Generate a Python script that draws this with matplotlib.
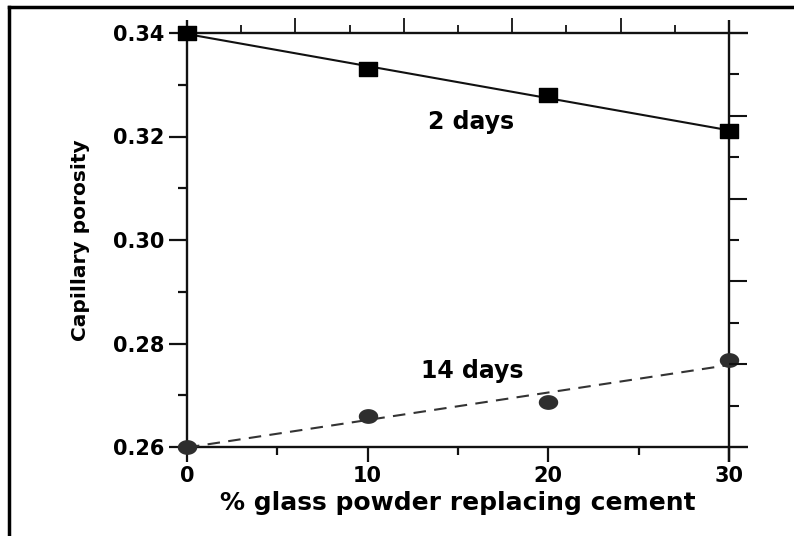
import matplotlib
matplotlib.use("Agg")
import matplotlib.pyplot as plt
import numpy as np
from matplotlib.lines import Line2D
from matplotlib.path import Path

glass_pct = [0, 10, 20, 30]
porosity_2d = [0.340, 0.333, 0.328, 0.321]
porosity_14d = [0.260, 0.266, 0.2687, 0.2768]
y_ticks = [0.26, 0.28, 0.30, 0.32, 0.34]
y_tick_labels = ["0.26", "0.28", "0.30", "0.32", "0.34"]
x_ticks = [0, 10, 20, 30]
x_tick_labels = ["0", "10", "20", "30"]

plt.rcParams['font.family'] = ['DejaVu Sans']
plt.rcParams['font.weight'] = 'bold'

fig = plt.figure(figsize=(7.94, 5.36), dpi=100)
ax = fig.add_axes([187/794, 1-447/536, 542/794, 414/536])
ax.set_xlim(0, 30)
ax.set_ylim(0.26, 0.34)

lw_ax = 1.7
for s in ax.spines.values():
    s.set_visible(False)

# extended frame lines
ext_r = 19/542
ext_t = 13/414
ext_b = 15/414
def fl(xs, ys):
    ax.add_line(Line2D(xs, ys, transform=ax.transAxes, color='#111', lw=lw_ax,
                       clip_on=False, solid_capstyle='butt'))
fl([0, 1+ext_r], [1, 1])
fl([0, 1+ext_r], [0, 0])
fl([0, 0], [0, 1+ext_t])
fl([1, 1], [-ext_b, 1+ext_t])

# wide (horizontally stretched) markers as in the scan
t = np.linspace(0, 2*np.pi, 41)
ell = Path(np.column_stack([np.cos(t), 0.74*np.sin(t)]), closed=True)
rect = Path([(-1, -0.77), (1, -0.77), (1, 0.77), (-1, 0.77), (-1, -0.77)], closed=True)

# fits
x = np.array(glass_pct, float)
p2 = np.polyfit(x, porosity_2d, 1)
p14 = np.polyfit(x, porosity_14d, 1)
ax.plot(x[[0, -1]], np.polyval(p2, x[[0, -1]]), color='#111', lw=1.5)
ax.plot(x[[0, -1]], np.polyval(p14, x[[0, -1]]), color='#333', lw=1.5, ls=(0, (6, 4)))
ax.plot(glass_pct, porosity_2d, ls='none', marker=rect, color='black', ms=12.5,
        clip_on=False, zorder=5)
ax.plot(glass_pct, porosity_14d, ls='none', marker=ell, color='#2e2e2e', ms=13,
        clip_on=False, zorder=5)

ax.text(15.7, 0.32145, "2 days", fontsize=17, fontweight='bold', ha='center', va='baseline')
ax.text(15.8, 0.27333, "14 days", fontsize=17, fontweight='bold', ha='center', va='baseline')

# left / bottom ticks
ax.set_yticks(y_ticks)
ax.set_yticklabels(y_tick_labels)
ax.set_yticks([0.27, 0.29, 0.31, 0.33], minor=True)
ax.set_xticks(x_ticks)
ax.set_xticklabels(x_tick_labels)
ax.set_xticks([5, 15, 25], minor=True)
ax.tick_params(axis='y', which='major', direction='out', length=13, width=1.6, labelsize=15, pad=3, color='#111')
ax.tick_params(axis='y', which='minor', direction='out', length=6.5, width=1.6, color='#111')
ax.tick_params(axis='x', which='major', direction='out', length=11, width=1.6, labelsize=15, pad=3, color='#111')
ax.tick_params(axis='x', which='minor', direction='out', length=6, width=1.6, color='#111')
for lab in ax.get_xticklabels() + ax.get_yticklabels():
    lab.set_fontweight('bold')

# right ticks
axr = ax.twinx()
axr.set_ylim(0.26, 0.34)
for s in axr.spines.values():
    s.set_visible(False)
axr.set_yticks([0.276, 0.292, 0.308, 0.324])
axr.set_yticks([0.268, 0.284, 0.300, 0.316, 0.332], minor=True)
axr.set_yticklabels([])
axr.tick_params(axis='y', which='major', direction='out', length=13, width=1.5, color='#111')
axr.tick_params(axis='y', which='minor', direction='out', length=7, width=1.5, color='#111')

# top ticks
axt = ax.twiny()
axt.set_xlim(0, 30)
for s in axt.spines.values():
    s.set_visible(False)
axt.set_xticks([6, 12, 18, 24])
axt.set_xticks([3, 9, 15, 21, 27], minor=True)
axt.set_xticklabels([])
axt.tick_params(axis='x', which='major', direction='out', length=11, width=1.3, color='#111')
axt.tick_params(axis='x', which='minor', direction='out', length=6, width=1.3, color='#111')

ax.set_xlabel("% glass powder replacing cement", fontsize=18, fontweight='bold', labelpad=3)
ax.set_ylabel("Capillary porosity", fontsize=14.5, fontweight='bold', labelpad=17)

# outer frame (top and left border of the scan)
fig.add_artist(Line2D([9/794, 1], [1-7/536, 1-7/536], transform=fig.transFigure, color='black', lw=2.5))
fig.add_artist(Line2D([9/794, 9/794], [0, 1-7/536], transform=fig.transFigure, color='black', lw=2.5))

fig.savefig("out.png", dpi=100)
